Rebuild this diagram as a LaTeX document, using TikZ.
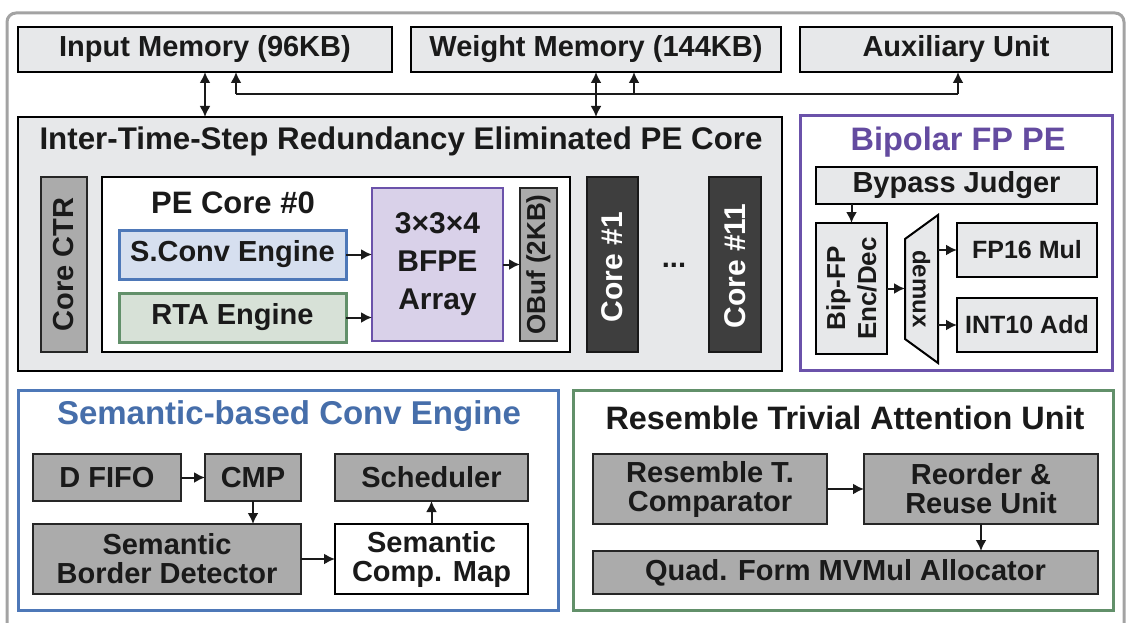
\documentclass[tikz,border=0pt]{standalone}
\usepackage{fontspec}
\setmainfont{Liberation Sans}
\usetikzlibrary{arrows.meta,calc}

\definecolor{txtc}{HTML}{1A1A1A}
\definecolor{lgray}{HTML}{E7E8EA}
\definecolor{mgray}{HTML}{ABABAB}
\definecolor{dgray}{HTML}{3E3E3E}
\definecolor{framegray}{HTML}{A3A3A3}
\definecolor{bluebd}{HTML}{4E78B8}
\definecolor{bluefill}{HTML}{D6DFEF}
\definecolor{bluetxt}{HTML}{466EAA}
\definecolor{greenbd}{HTML}{62906A}
\definecolor{greenfill}{HTML}{D7E1D7}
\definecolor{purplebd}{HTML}{6B52AA}
\definecolor{purplefill}{HTML}{D9D1E9}
\definecolor{purpletxt}{HTML}{644BA0}

\tikzset{
  lbl/.style={font=\bfseries\fontsize{29}{29}\selectfont, text=txtc, align=center, inner sep=0pt},
  ttl/.style={font=\bfseries\fontsize{31}{31}\selectfont, text=txtc, align=center, inner sep=0pt},
  small/.style={font=\bfseries\fontsize{25}{30}\selectfont, text=txtc, align=center, inner sep=0pt},
  blk/.style={draw=black, line width=2pt, inner sep=0pt, outer sep=0pt},
  lbox/.style={blk, fill=lgray},
  gbox/.style={blk, draw=black!85, fill=mgray},
  dbox/.style={blk, draw=black!90, fill=dgray},
  wbox/.style={blk, fill=white},
  tip/.tip={Latex[length=11pt,width=11pt]},
  arr/.style={line width=2pt, draw=txtc, -tip},
  darr/.style={line width=2pt, draw=txtc, tip-tip},
  bus/.style={line width=2pt, draw=txtc},
  outerframe/.style={draw=framegray, line width=3pt, rounded corners=9pt},
}

\begin{document}
\begin{tikzpicture}[x=1pt,y=-1pt]
\useasboundingbox (0,0) rectangle (1127,623);

% outer frame, open at the bottom edge
\draw[outerframe] (7,650) -- (7,13) -- (1124,13) -- (1124,650);

% memories and auxiliary unit
\node[lbox, minimum width=374pt, minimum height=45pt] (inmem) at (205,49.5) {};
\node[lbl] (inmemT) at (inmem) {Input Memory (96KB)};
\node[lbox, minimum width=370pt, minimum height=45pt] (wmem) at (596,49.5) {};
\node[lbl] (wmemT) at (wmem) {Weight Memory (144KB)};
\node[lbox, minimum width=312pt, minimum height=45pt] (aux) at (956,49.5) {};
\node[lbl] (auxT) at (aux) {Auxiliary Unit};

% PE core cluster
\node[lbox, minimum width=764pt, minimum height=254pt] (pecore) at (400,244) {};
\node[ttl, font=\bfseries\fontsize{31.3}{31}\selectfont] (pecoreT) at (401,141) {Inter-Time-Step Redundancy Eliminated PE Core};
\node[gbox, minimum width=46pt, minimum height=175pt] (ctr) at (64,264.5) {};
\node[lbl, rotate=90] (ctrT) at (ctr) {Core CTR};
\node[wbox, minimum width=468pt, minimum height=175pt] (core0) at (336,264.5) {};
\node[ttl] (core0T) at (233,203) {PE Core \#0};
\node[blk, draw=bluebd, line width=3pt, fill=bluefill, minimum width=227pt, minimum height=49pt] (sconv) at (232.5,254.5) {};
\node[lbl] (sconvT) at (sconv) {S.Conv Engine};
\node[blk, draw=greenbd, line width=3pt, fill=greenfill, minimum width=227pt, minimum height=49pt] (rtae) at (232.5,317.5) {};
\node[lbl] (rtaeT) at (rtae) {RTA Engine};
\node[blk, draw=purplebd, fill=purplefill, minimum width=131pt, minimum height=153pt] (bfpe) at (437.5,264.5) {};
\node[ttl, font=\bfseries\fontsize{30}{38}\selectfont] (bfpeT) at (bfpe) {3×3×4\\BFPE\\Array};
\node[gbox, minimum width=37pt, minimum height=153pt] (obuf) at (538.5,264.5) {};
\node[lbl, font=\bfseries\fontsize{26}{26}\selectfont, rotate=90] (obufT) at (obuf) {OBuf (2KB)};
\node[dbox, minimum width=51pt, minimum height=175pt] (core1) at (612.5,264.5) {};
\node[lbl, text=white, font=\bfseries\fontsize{30}{30}\selectfont, rotate=90] (core1T) at (612.5,267) {Core \#1};
\node[lbl] (dots) at (674,265) {...};
\node[dbox, minimum width=52pt, minimum height=175pt] (core11) at (735,264.5) {};
\node[lbl, text=white, font=\bfseries\fontsize{30}{30}\selectfont, rotate=90] (core11T) at (735,266) {Core \#11};

\draw[arr] (sconv.east) -- (bfpe.west |- sconv.east);
\draw[arr] (rtae.east) -- (bfpe.west |- rtae.east);
\draw[arr] (bfpe.east) -- (obuf.west);

% memory connections
\draw[darr] (inmem.south) -- (pecore.north -| inmem.south);
\coordinate (busA) at (236,94);
\coordinate (busB) at (634,94);
\coordinate (busC) at (958,94);
\draw[bus] (busA) -- (busC);
\draw[arr] (busA) -- (busA |- inmem.south);
\draw[arr] (busB) -- (busB |- wmem.south);
\draw[arr] (busC) -- (busC |- aux.south);
\draw[darr] (wmem.south) -- (pecore.north -| wmem.south);

% bipolar FP PE
\node[blk, draw=purplebd, line width=3pt, fill=white, minimum width=312pt, minimum height=254pt] (bip) at (956,243) {};
\node[ttl, text=purpletxt, font=\bfseries\fontsize{32.5}{32}\selectfont] (bipT) at (958,142) {Bipolar FP PE};
\node[lbox, minimum width=281pt, minimum height=37pt] (bypass) at (956.5,185.5) {};
\node[lbl] (bypassT) at (bypass) {Bypass Judger};
\node[lbox, minimum width=71pt, minimum height=131pt] (enc) at (851.5,288.5) {};
\node[small, font=\bfseries\fontsize{26}{31}\selectfont, rotate=90] (encT) at (enc) {Bip-FP\\Enc/Dec};
\coordinate (dmxA) at (905,239);
\coordinate (dmxB) at (938,215);
\coordinate (dmxC) at (938,363);
\coordinate (dmxD) at (905,339);
\draw[blk, fill=lgray, line join=miter] (dmxA) -- (dmxB) -- (dmxC) -- (dmxD) -- cycle;
\node[small, font=\bfseries\fontsize{24}{24}\selectfont, rotate=-90] (dmxT) at (921.5,289) {demux};
\coordinate (dmxIn) at (905,288.5);
\coordinate (dmxO1) at (938,250);
\coordinate (dmxO2) at (938,325);
\node[lbox, minimum width=140pt, minimum height=54pt] (fp16) at (1027,250) {};
\node[small] (fp16T) at (fp16) {FP16 Mul};
\node[lbox, minimum width=140pt, minimum height=54pt] (int10) at (1027,325) {};
\node[small] (int10T) at (int10) {INT10 Add};
\draw[arr] (bypass.south -| enc) -- (enc.north);
\draw[arr] (enc.east) -- (dmxIn);
\draw[arr] (dmxO1) -- (fp16.west);
\draw[arr] (dmxO2) -- (int10.west);

% semantic-based convolution engine
\node[blk, draw=bluebd, line width=3pt, fill=white, minimum width=540pt, minimum height=220pt] (sem) at (288,500) {};
\node[ttl, text=bluetxt, font=\bfseries\fontsize{33}{33}\selectfont] (semT) at (289,416) {Semantic-based Conv Engine};
\node[gbox, minimum width=148pt, minimum height=47pt] (dfifo) at (107,477.5) {};
\node[lbl] (dfifoT) at (dfifo) {D FIFO};
\node[gbox, minimum width=96pt, minimum height=47pt] (cmp) at (253,477.5) {};
\node[lbl] (cmpT) at (cmp) {CMP};
\node[gbox, minimum width=193pt, minimum height=47pt] (sched) at (431.5,477.5) {};
\node[lbl] (schedT) at (sched) {Scheduler};
\node[gbox, minimum width=268pt, minimum height=70pt] (sbd) at (167,559) {};
\node[lbl] (sbdT) at (sbd) {Semantic\\Border Detector};
\node[wbox, minimum width=193pt, minimum height=70pt] (scm) at (431.5,559) {};
\node[lbl] (scmT) at (scm) {Semantic\\Comp. Map};
\draw[arr] (dfifo.east) -- (cmp.west);
\draw[arr] (cmp.south) -- (sbd.north -| cmp.south);
\draw[arr] (sbd.east) -- (scm.west);
\draw[arr] (scm.north) -- (sched.south);

% resemble trivial attention unit
\node[blk, draw=greenbd, line width=3pt, fill=white, minimum width=540pt, minimum height=220pt] (rta) at (843,500) {};
\node[ttl, font=\bfseries\fontsize{32.4}{32}\selectfont] (rtaT) at (845,418) {Resemble Trivial Attention Unit};
\node[gbox, minimum width=234pt, minimum height=70pt] (rtc) at (710,489) {};
\node[lbl] (rtcT) at (rtc) {Resemble T.\\Comparator};
\node[gbox, minimum width=234pt, minimum height=70pt] (rru) at (981,489) {};
\node[lbl] (rruT) at (rru) {Reorder \&\\Reuse Unit};
\node[gbox, minimum width=505pt, minimum height=43pt] (quad) at (845.5,572.5) {};
\node[lbl] (quadT) at (quad) {Quad. Form MVMul Allocator};
\draw[arr] (rtc.east) -- (rru.west);
\draw[arr] (rru.south) -- (quad.north -| rru.south);
\end{tikzpicture}
\end{document}
